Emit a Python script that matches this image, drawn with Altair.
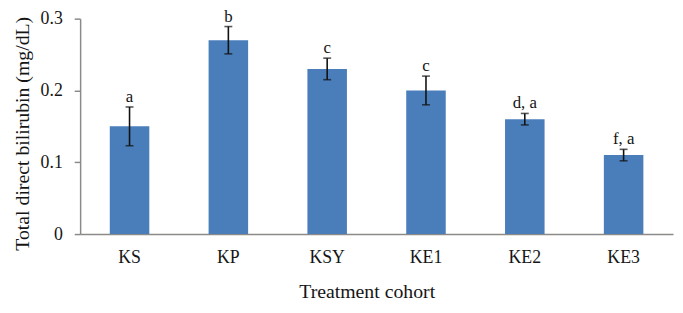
import altair as alt
import pandas as pd

cohorts = ["KS", "KP", "KSY", "KE1", "KE2", "KE3"]
means = [0.15, 0.27, 0.23, 0.20, 0.16, 0.11]
errors = [0.027, 0.019, 0.015, 0.020, 0.008, 0.008]
letters = ["a", "b", "c", "c", "d, a", "f, a"]

df = pd.DataFrame({
    "cohort": cohorts,
    "mean": means,
    "err": errors,
    "label": letters,
})
df["lo"] = df["mean"] - df["err"]
df["hi"] = df["mean"] + df["err"]

FONT = "Liberation Serif"
TXT = "#151515"
AX = "#8c8a88"

x = alt.X("cohort:N", sort=cohorts, title="Treatment cohort",
          scale=alt.Scale(paddingInner=0.6, paddingOuter=0.3),
          axis=alt.Axis(labelAngle=0, ticks=False, labelPadding=15, titlePadding=15,
                        titleX=290,
                        domainColor=AX, domainWidth=1.5,
                        labelFont=FONT, titleFont=FONT, labelFontSize=18, titleFontSize=20,
                        titleFontWeight="normal", labelColor=TXT, titleColor=TXT))
yscale = alt.Scale(domain=[0, 0.3])
yaxis = alt.Axis(values=[0, 0.1, 0.2, 0.3], grid=False, tickSize=6, labelPadding=12,
                 domainColor=AX, tickColor=AX, domainWidth=1.5, tickWidth=1.5,
                 labelFont=FONT, titleFont=FONT, labelFontSize=18, titleFontSize=20,
                 titleFontWeight="normal", labelColor=TXT, titleColor=TXT,
                 titlePadding=8, titleY=116,
                 labelExpr="datum.value == 0 ? '0' : format(datum.value, '.1f')")

base = alt.Chart(df)
bars = base.mark_bar(color="#4A7EBB").encode(
    x=x,
    y=alt.Y("mean:Q", scale=yscale, axis=yaxis, title="Total direct bilirubin (mg/dL)"),
)
rule = base.mark_rule(color="#111", strokeWidth=1.6).encode(
    x=alt.X("cohort:N", sort=cohorts), y="lo:Q", y2="hi:Q")
cap_hi = base.mark_tick(color="#111", size=8, thickness=1.6).encode(
    x=alt.X("cohort:N", sort=cohorts), y="hi:Q")
cap_lo = base.mark_tick(color="#111", size=8, thickness=1.6).encode(
    x=alt.X("cohort:N", sort=cohorts), y="lo:Q")
text = base.mark_text(baseline="alphabetic", dy=-5, font=FONT, fontSize=17, color=TXT).encode(
    x=alt.X("cohort:N", sort=cohorts), y="hi:Q", text="label:N")

chart = alt.layer(bars, rule, cap_hi, cap_lo, text).properties(
    width=600, height=218,
    autosize=alt.AutoSizeParams(type="none"),
    padding={"left": 73, "top": 9, "right": 2, "bottom": 70},
).configure_view(stroke=None)

chart.save("out.html", embed_options={"renderer": "svg", "actions": False})
